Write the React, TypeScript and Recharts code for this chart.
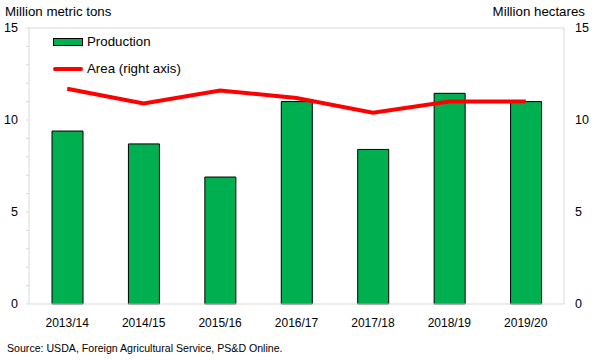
import React from "react";
import {
  ComposedChart,
  Bar,
  Line,
  XAxis,
  YAxis,
  ReferenceLine,
} from "recharts";

const YEARS = ["2013/14", "2014/15", "2015/16", "2016/17", "2017/18", "2018/19", "2019/20"];
const PRODUCTION = [9.4, 8.7, 6.9, 11.0, 8.4, 11.45, 11.0];
const AREA = [11.7, 10.9, 11.6, 11.2, 10.4, 11.0, 11.0];
const LEFT_TICKS = [0, 1, 2, 3, 4, 5, 6, 7, 8, 9, 10, 11, 12, 13, 14, 15];
const RIGHT_TICKS = [0, 5, 10, 15];

const GREEN = "#00B050";
const RED = "#FF0000";
const GRID = "#d9d9d9";
const FONT = "'Liberation Sans', Arial, sans-serif";

const data = YEARS.map((year, i) => ({
  year,
  production: PRODUCTION[i],
  area: AREA[i],
}));

// legend sits inside the plot, top-left, like the Excel original
function LegendBox() {
  return (
    <div
      style={{
        position: "absolute",
        left: 53,
        top: 34,
        fontFamily: FONT,
        fontSize: 13.3,
        color: "#000",
        lineHeight: "16px",
      }}
    >
      <div style={{ display: "flex", alignItems: "center", height: 16 }}>
        <span
          style={{
            display: "inline-block",
            width: 28,
            height: 6,
            background: GREEN,
            border: "1px solid #000",
            marginRight: 4,
          }}
        />
        Production
      </div>
      <div style={{ display: "flex", alignItems: "center", height: 16, marginTop: 11 }}>
        <span
          style={{
            display: "inline-block",
            width: 30,
            height: 4,
            background: RED,
            borderRadius: 2,
            marginRight: 4,
          }}
        />
        Area (right axis)
      </div>
    </div>
  );
}

export default function App() {
  return (
    <div style={{ position: "absolute", left: 0, top: 0, width: 601, height: 362, background: "#fff" }}>
      <div style={{ position: "absolute", left: 5, top: 4, fontFamily: FONT, fontSize: 13.3, color: "#000" }}>
        Million metric tons
      </div>
      <div style={{ position: "absolute", right: 16, top: 4, fontFamily: FONT, fontSize: 13.3, color: "#000" }}>
        Million hectares
      </div>
      <ComposedChart
        width={601}
        height={362}
        data={data}
        margin={{ top: 28, right: 0, bottom: 28, left: 0 }}
        barCategoryGap={0}
      >
        <XAxis
          dataKey="year"
          height={30}
          tickLine={false}
          tickSize={0}
          tickMargin={14}
          axisLine={{ stroke: GRID }}
          tick={{ fontFamily: FONT, fontSize: 12, fill: "#000" }}
          interval={0}
        />
        <YAxis
          yAxisId="left"
          width={29}
          domain={[0, 15]}
          ticks={LEFT_TICKS}
          interval={0}
          tickFormatter={(v: number) => (v % 5 === 0 ? String(v) : "")}
          tickSize={3}
          tickMargin={8}
          tickLine={{ stroke: GRID }}
          axisLine={{ stroke: GRID }}
          tick={{ fontFamily: FONT, fontSize: 12.5, fill: "#000" }}
        />
        <YAxis
          yAxisId="right"
          orientation="right"
          width={37}
          domain={[0, 15]}
          ticks={RIGHT_TICKS}
          interval={0}
          tickSize={0}
          tickMargin={11}
          tickLine={false}
          axisLine={{ stroke: GRID }}
          tick={{ fontFamily: FONT, fontSize: 12.5, fill: "#000", textAnchor: "start" }}
        />
        <ReferenceLine yAxisId="left" y={15} stroke={GRID} />
        <Bar
          yAxisId="left"
          dataKey="production"
          name="Production"
          fill={GREEN}
          stroke="#000"
          strokeWidth={1}
          barSize={31}
          isAnimationActive={false}
        />
        <Line
          yAxisId="right"
          dataKey="area"
          name="Area (right axis)"
          stroke={RED}
          strokeWidth={4}
          dot={false}
          activeDot={false}
          isAnimationActive={false}
        />
      </ComposedChart>
      <LegendBox />
      <div style={{ position: "absolute", left: 7, top: 342, fontFamily: FONT, fontSize: 10.6, color: "#000" }}>
        Source: USDA, Foreign Agricultural Service, PS&amp;D Online.
      </div>
    </div>
  );
}
